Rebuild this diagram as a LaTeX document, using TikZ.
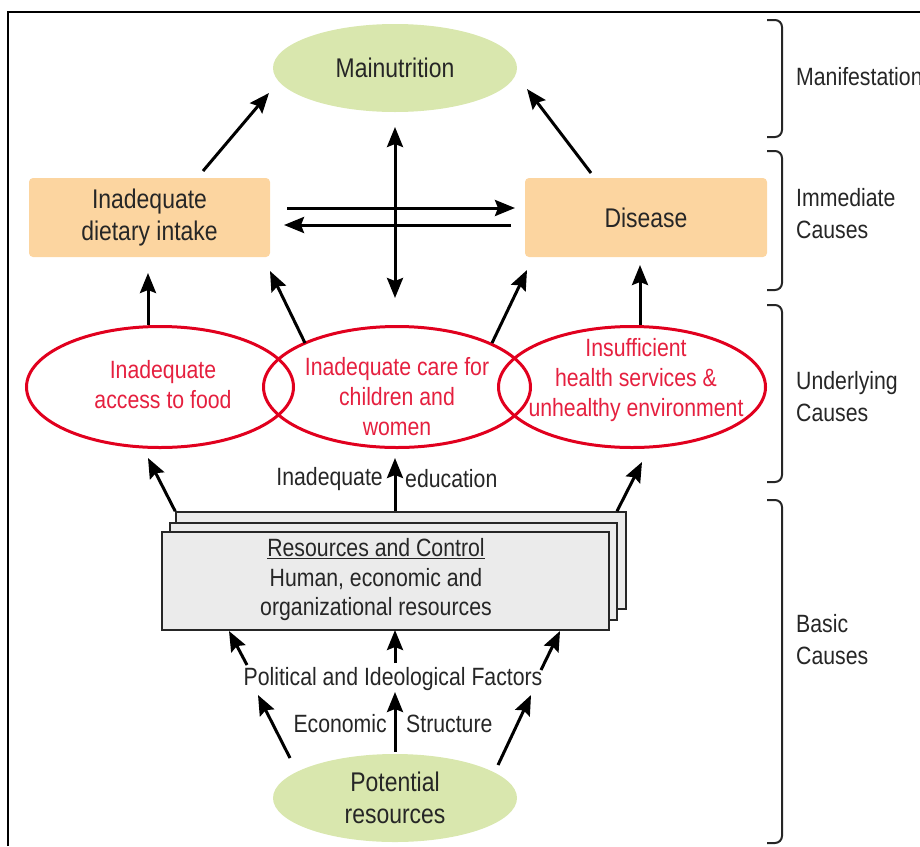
\documentclass[tikz,border=0pt]{standalone}
\usepackage{fontspec}
\setmainfont{Liberation Sans}[FakeStretch=0.85]
\usetikzlibrary{arrows.meta,calc,shapes.geometric}
\definecolor{greenfill}{HTML}{D9E7AE}
\definecolor{peach}{HTML}{FCD5A0}
\definecolor{boxgray}{HTML}{EBEBEB}
\definecolor{redline}{HTML}{E1001E}
\definecolor{redtext}{HTML}{E5203F}
\definecolor{txt}{HTML}{262626}
\begin{document}
\begin{tikzpicture}[x=1pt,y=-1pt,
  greenell/.style={ellipse,fill=greenfill,minimum width=244pt,minimum height=88pt,inner sep=0pt,align=center,text=txt,font=\fontsize{27}{32}\selectfont},
  peachbox/.style={rectangle,rounded corners=4pt,fill=peach,minimum width=241pt,minimum height=79pt,inner sep=0pt,align=center,text=txt,font=\fontsize{27}{32}\selectfont},
  redell/.style={ellipse,draw=redline,line width=3pt,minimum width=267pt,minimum height=121pt,inner sep=0pt},
  redlab/.style={align=center,text=redtext,font=\fontsize{25}{30}\selectfont,inner sep=0pt},
  graybox/.style={rectangle,draw=txt,line width=1.6pt,fill=boxgray,inner sep=0pt},
  lab/.style={text=txt,font=\fontsize{25}{32}\selectfont,inner sep=0pt},
  arr/.style={line width=3pt,-{Stealth[length=20pt,width=16pt,inset=3pt]}},
  darr/.style={line width=3pt,{Stealth[length=20pt,width=16pt,inset=3pt]}-{Stealth[length=20pt,width=16pt,inset=3pt]}},
  brace/.style={draw=txt,line width=2pt,rounded corners=7pt}
]
\useasboundingbox (0,0) rectangle (920,846);
% frame
\draw[line width=1.5pt] (8,846) -- (8,12) -- (920,12);

% nodes
\node[greenell] (mal) at (395,68) {Mainutrition};
\node[peachbox] (intake) at (149.5,217.5) {Inadequate\\dietary intake};
\node[peachbox,minimum width=242pt] (dis) at (646,217.5) {Disease};

\node[redell] (acc) at (160,387) {};
\node[redell] (care) at (397,387) {};
\node[redell] (hlth) at (632,387) {};
\node[redlab] (acct) at (163,385) {Inadequate\\access to food};
\node[redlab] (caret) at (397,397) {Inadequate care for\\children and\\women};
\node[redlab] (hltht) at (636,380) {Insufficient\\health services \&\\unhealthy environment};

\node[graybox,minimum width=450pt,minimum height=97pt] (res3) at (401,560.5) {};
\node[graybox,minimum width=447pt,minimum height=97pt] (res2) at (393.5,571.5) {};
\node[graybox,minimum width=447pt,minimum height=98pt] (res) at (385.5,581) {};
\node[lab,align=center,font=\fontsize{25}{29.5}\selectfont] (rest) at (376,580) {\underline{Resources and Control}\\Human, economic and\\organizational resources};

\node[greenell] (pot) at (395,798) {Potential\\resources};

\node[lab,anchor=east] (inad) at (383,479) {Inadequate};
\node[lab,anchor=west] (edu) at (405,479) {education};
\node[lab] (pol) at (393,679) {Political and Ideological Factors};
\node[lab,anchor=east] (econ) at (387,724) {Economic};
\node[lab,anchor=west] (struct) at (406,724) {Structure};

% right labels
\node[lab,anchor=west] (lman) at (796,77) {Manifestation};
\node[lab,anchor=west,align=left] (limm) at (796,214) {Immediate\\Causes};
\node[lab,anchor=west,align=left] (lund) at (796,397) {Underlying\\Causes};
\node[lab,anchor=west,align=left] (lbas) at (796,640) {Basic\\Causes};

% braces
\draw[brace] (767,20) -- (782,20) -- (782,137) -- (767,137);
\draw[brace] (767,151) -- (782,151) -- (782,290) -- (767,290);
\draw[brace] (767,305) -- (782,305) -- (782,482) -- (767,482);
\draw[brace] (767,500) -- (782,500) -- (782,843) -- (767,843);

% immediate -> manifestation
\draw[arr] ($(intake.center)+(53.5,-46.5)$) -- ($(mal.center)+(-126,25)$);
\draw[arr] ($(dis.center)+(-55,-44.5)$) -- ($(mal.center)+(132,21)$);
\draw[darr] ($(mal.center)+(0,59)$) -- ($(care.center)+(-2,-89)$);
\draw[arr] ($(intake.center)+(137.5,-9.5)$) -- ($(dis.center)+(-131,-9.5)$);
\draw[arr] ($(dis.center)+(-135,7.5)$) -- ($(intake.center)+(134.5,7.5)$);

% underlying -> immediate
\draw[arr] ($(acc.center)+(-12,-62)$) -- ($(intake.center)+(-1.5,55.5)$);
\draw[arr] ($(care.center)+(-92,-44)$) -- ($(intake.center)+(120.5,53.5)$);
\draw[arr] ($(care.center)+(95,-44)$) -- ($(dis.center)+(-119,52.5)$);
\draw[arr] ($(hlth.center)+(8,-62)$) -- ($(dis.center)+(-6,47.5)$);

% basic -> underlying
\draw[arr] (res3.north west) -- ($(acc.center)+(-12,71)$);
\draw[arr] ($(res3.north)+(-6,0)$) -- ($(care.center)+(-2,71)$);
\draw[arr] ($(res3.north)+(216,0)$) -- ($(hlth.center)+(10,75)$);

% political -> resources
\draw[arr] ($(pol.center)+(-146,-14)$) -- ($(res.center)+(-156.5,50)$);
\draw[arr] ($(pol.center)+(2,-16)$) -- ($(res.center)+(9.5,49)$);
\draw[arr] ($(pol.center)+(148,-9)$) -- ($(res.center)+(174.5,50)$);

% potential -> political
\draw[arr] ($(pot.center)+(-105,-40)$) -- ($(pol.center)+(-135,16)$);
\draw[arr] ($(pot.center)+(0,-46)$) -- ($(pol.center)+(2,13)$);
\draw[arr] ($(pot.center)+(103,-33)$) -- ($(pol.center)+(138,16)$);
\end{tikzpicture}
\end{document}
